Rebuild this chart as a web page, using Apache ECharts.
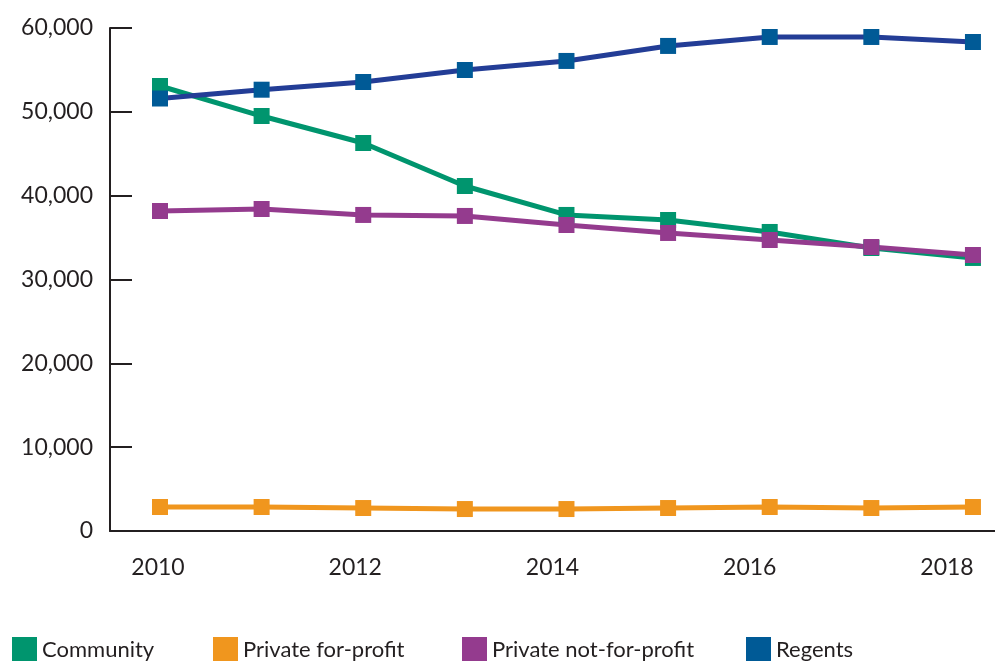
<!DOCTYPE html>
<html>
<head>
<meta charset="utf-8">
<title>Enrollment by sector</title>
<script src="https://cdn.jsdelivr.net/npm/echarts@6/dist/echarts.min.js"></script>
<style>
  html, body { margin: 0; padding: 0; background: #fff; }
  #chart { width: 995px; height: 661px; }
</style>
</head>
<body>
<div id="chart"></div>
<script>
// data
const years = [2010, 2011, 2012, 2013, 2014, 2015, 2016, 2017, 2018];
const yearLabels = [2010, 2012, 2014, 2016, 2018];
const community = [53080, 49500, 46280, 41150, 37700, 37100, 35670, 33760, 32570];
const privateForProfit = [2860, 2860, 2740, 2620, 2620, 2740, 2860, 2740, 2860];
const privateNotForProfit = [38170, 38410, 37700, 37580, 36500, 35550, 34710, 33880, 32920];
const regents = [51590, 52640, 53560, 54990, 56070, 57860, 58930, 58930, 58330];

const FONT = 'Lato, "DejaVu Sans", sans-serif';
const INK = '#231f20';

function pairs(vals) {
  return years.map((y, i) => [y, vals[i]]);
}

function lineSeries(name, vals, color, lineColor) {
  return {
    name: name,
    type: 'line',
    xAxisIndex: 0,
    data: pairs(vals),
    symbol: 'rect',
    symbolSize: 16,
    itemStyle: { color: color },
    lineStyle: { color: lineColor || color, width: 5 },
    emphasis: { disabled: true },
    animation: false,
  };
}

function legendItem(name, left) {
  return {
    left: left,
    top: 632,
    icon: 'rect',
    itemWidth: 25,
    itemHeight: 25,
    data: [name],
    selectedMode: false,
    textStyle: { fontFamily: FONT, fontSize: 22, color: INK, padding: [0, 0, 0, 0] },
  };
}

const chart = echarts.init(document.getElementById('chart'));
const option = {
  backgroundColor: '#fff',
  grid: { left: 110, right: 0, top: 28, bottom: 130, containLabel: false },
  xAxis: [
    {
      type: 'value',
      position: 'bottom',
      min: 2009.508,
      max: 2018.217,
      axisLine: { show: true, onZero: false, lineStyle: { color: INK, width: 2 } },
      axisTick: { show: false },
      axisLabel: { show: false },
      splitLine: { show: false },
    },
    {
      // separate axis just for the year labels
      type: 'value',
      position: 'bottom',
      min: 2009.513,
      max: 2018.487,
      axisLine: { show: false },
      axisTick: { show: false },
      splitLine: { show: false },
      axisLabel: {
        customValues: yearLabels,
        formatter: v => String(v),
        margin: 25,
        fontFamily: FONT,
        fontSize: 23,
        color: INK,
      },
    },
  ],
  yAxis: {
    type: 'value',
    min: 0,
    max: 60000,
    interval: 10000,
    axisLine: { show: true, lineStyle: { color: INK, width: 2 } },
    axisTick: { show: true, inside: true, length: 22, lineStyle: { color: INK, width: 2 } },
    splitLine: { show: false },
    axisLabel: {
      margin: 17,
      fontFamily: FONT,
      fontSize: 23,
      color: INK,
      formatter: v => v.toLocaleString('en-US'),
    },
  },
  legend: [
    legendItem('Community', 7),
    legendItem('Private for-profit', 208),
    legendItem('Private not-for-profit', 457),
    legendItem('Regents', 741),
  ],
  series: [
    lineSeries('Community', community, '#00956e'),
    lineSeries('Private for-profit', privateForProfit, '#f0961e'),
    lineSeries('Private not-for-profit', privateNotForProfit, '#943b8e'),
    lineSeries('Regents', regents, '#005a96', '#233d96'),
  ],
};
chart.setOption(option);
</script>
</body>
</html>
